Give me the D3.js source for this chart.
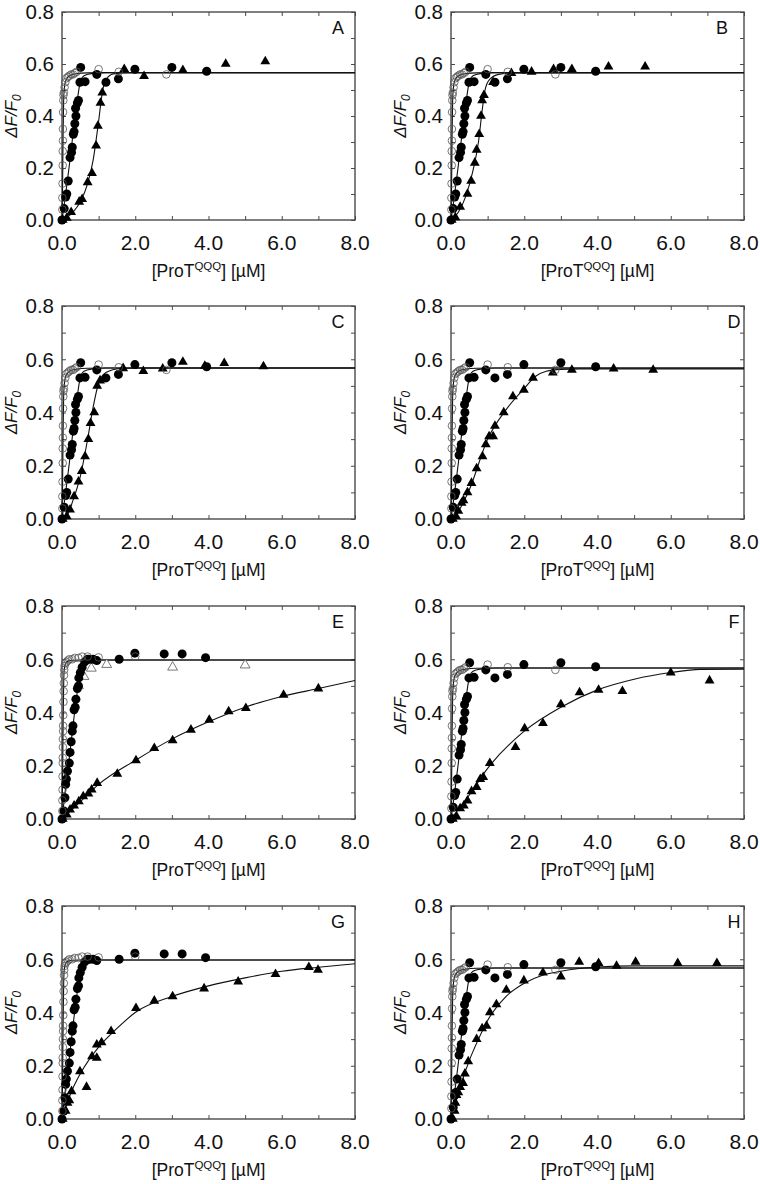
<!DOCTYPE html>
<html><head><meta charset="utf-8">
<script src="https://cdn.jsdelivr.net/npm/d3@7"></script>
<style>body{margin:0;background:#fff}svg{display:block}</style>
</head><body>
<script>
// ---------- DATA ----------
const panelLabels = ["A","B","C","D","E","F","G","H"];
const xTicks = [0,2,4,6,8];
const xMinor = [0,1,2,3,4,5,6,7,8];
const yTicks = [0,0.2,0.4,0.6,0.8];
const yMinor = [0,0.1,0.2,0.3,0.4,0.5,0.6,0.7,0.8];
const xTitleMain = "[ProT";
const xTitleSup = "QQQ";
const xTitleEnd = "] [µM]";

// control set 1 (panels A,B,C,D,F,H)
const openCircles1 = [[0.01,0.04],[0.01,0.085],[0.015,0.14],[0.02,0.21],[0.02,0.265],[0.025,0.305],[0.025,0.35],[0.03,0.415],[0.035,0.46],[0.04,0.48],[0.05,0.49],[0.07,0.51],[0.09,0.53],[0.12,0.545],[0.16,0.55],[0.2,0.555],[0.25,0.56],[0.3,0.56],[0.35,0.565],[0.4,0.57],[1.0,0.58],[1.55,0.57],[2.85,0.56]];
const filledCircles1 = [[0,0],[0.06,0.044],[0.1,0.088],[0.13,0.1],[0.17,0.15],[0.22,0.24],[0.26,0.26],[0.28,0.28],[0.31,0.33],[0.33,0.34],[0.35,0.37],[0.38,0.4],[0.37,0.43],[0.42,0.45],[0.45,0.46],[0.51,0.587],[0.49,0.53],[0.63,0.532],[0.95,0.56],[1.2,0.53],[1.54,0.543],[1.99,0.58],[3.0,0.587],[3.95,0.572]];
const openCurve1 = [[0,0],[0.015,0.12],[0.03,0.33],[0.045,0.46],[0.06,0.5],[0.09,0.53],[0.15,0.548],[0.25,0.558],[0.4,0.563],[0.7,0.566],[1.2,0.567],[8,0.567]];
const filledCurve1 = [[0,0],[0.1,0.1],[0.2,0.21],[0.3,0.33],[0.4,0.44],[0.47,0.51],[0.52,0.54],[0.6,0.555],[0.8,0.563],[1.2,0.567],[8,0.567]];

// control set 2 (panels E,G)
const openCircles2 = [[0.01,0.03],[0.01,0.07],[0.015,0.11],[0.015,0.16],[0.02,0.21],[0.02,0.23],[0.025,0.27],[0.025,0.3],[0.03,0.33],[0.03,0.35],[0.035,0.39],[0.04,0.44],[0.045,0.48],[0.05,0.51],[0.055,0.54],[0.06,0.56],[0.07,0.575],[0.09,0.585],[0.12,0.59],[0.16,0.595],[0.2,0.6],[0.28,0.6],[0.35,0.605],[0.45,0.605],[0.55,0.61],[0.7,0.61],[1.0,0.607],[2.0,0.61]];
const filledCircles2 = [[0,0],[0.05,0.03],[0.08,0.08],[0.1,0.13],[0.12,0.15],[0.15,0.18],[0.2,0.21],[0.22,0.25],[0.25,0.29],[0.28,0.33],[0.3,0.35],[0.33,0.41],[0.36,0.42],[0.38,0.45],[0.42,0.49],[0.45,0.5],[0.46,0.53],[0.5,0.55],[0.55,0.57],[0.62,0.59],[0.7,0.6],[0.75,0.6],[0.85,0.6],[0.95,0.595],[1.56,0.6],[1.99,0.623],[2.79,0.62],[3.28,0.62],[3.92,0.606]];
const openCurve2 = [[0,0],[0.015,0.14],[0.03,0.35],[0.045,0.5],[0.06,0.56],[0.09,0.582],[0.15,0.592],[0.3,0.596],[0.6,0.597],[8,0.597]];
const filledCurve2 = [[0,0],[0.1,0.12],[0.2,0.23],[0.3,0.35],[0.4,0.46],[0.5,0.55],[0.58,0.585],[0.7,0.596],[1.0,0.597],[8,0.597]];

// titration series (filled triangles), one per panel
const trianglesA = [[0.02,0.0],[0.13,0.008],[0.25,0.03],[0.47,0.07],[0.55,0.08],[0.7,0.145],[0.82,0.18],[0.93,0.286],[0.98,0.362],[1.05,0.45],[1.1,0.49],[1.7,0.58],[2.24,0.553],[3.3,0.576],[4.47,0.6],[5.55,0.61]];
const trianglesB = [[0.02,0.0],[0.12,0.01],[0.25,0.05],[0.45,0.1],[0.55,0.15],[0.65,0.22],[0.7,0.27],[0.77,0.33],[0.82,0.4],[0.85,0.46],[0.9,0.48],[1.15,0.53],[1.65,0.565],[2.2,0.57],[2.8,0.58],[3.3,0.58],[4.3,0.59],[5.3,0.59]];
const trianglesC = [[0.02,0.0],[0.13,0.01],[0.22,0.035],[0.33,0.085],[0.45,0.14],[0.54,0.18],[0.63,0.235],[0.72,0.3],[0.78,0.36],[0.88,0.4],[0.96,0.5],[1.04,0.52],[1.67,0.566],[2.22,0.555],[2.75,0.565],[3.3,0.59],[3.9,0.575],[4.43,0.585],[5.5,0.573]];
const trianglesD = [[0.05,0.0],[0.14,0.01],[0.2,0.03],[0.29,0.06],[0.34,0.07],[0.45,0.1],[0.56,0.135],[0.7,0.19],[0.86,0.235],[0.95,0.28],[1.04,0.31],[1.15,0.31],[1.2,0.35],[1.44,0.4],[1.69,0.46],[1.99,0.485],[2.24,0.53],[2.78,0.55],[3.3,0.56],[4.44,0.565],[5.52,0.56]];
const trianglesE = [[0.02,0.0],[0.13,0.016],[0.22,0.035],[0.33,0.05],[0.46,0.066],[0.58,0.085],[0.72,0.095],[0.81,0.11],[0.96,0.135],[1.51,0.169],[2.02,0.22],[2.52,0.266],[3.02,0.295],[3.52,0.335],[4.02,0.372],[4.55,0.404],[5.02,0.416],[6.05,0.466],[7.0,0.49]];
const openTrianglesE = [[0.45,0.5],[0.6,0.535],[0.8,0.566],[1.22,0.58],[3.02,0.57],[5.0,0.578]];
const trianglesF = [[0.05,0.0],[0.15,0.01],[0.25,0.04],[0.35,0.05],[0.45,0.069],[0.56,0.104],[0.7,0.12],[0.8,0.15],[0.88,0.157],[1.06,0.21],[1.76,0.27],[2.01,0.34],[2.51,0.36],[3.0,0.43],[3.51,0.475],[4.03,0.485],[4.68,0.48],[6.0,0.55],[7.06,0.52]];
const trianglesG = [[0.02,0.0],[0.1,0.03],[0.15,0.06],[0.2,0.07],[0.26,0.104],[0.49,0.179],[0.67,0.12],[0.82,0.235],[0.95,0.229],[0.95,0.279],[1.08,0.2875],[1.34,0.33],[2.02,0.416],[2.52,0.444],[3.02,0.46],[3.88,0.49],[4.81,0.516],[5.83,0.544],[6.74,0.57],[6.99,0.56]];
const trianglesH = [[0.05,0.0],[0.1,0.03],[0.12,0.06],[0.15,0.09],[0.2,0.1],[0.25,0.12],[0.33,0.135],[0.38,0.17],[0.47,0.216],[0.7,0.3],[0.85,0.34],[0.97,0.35],[1.06,0.4],[1.24,0.43],[1.51,0.485],[1.99,0.52],[2.51,0.55],[3.0,0.535],[3.5,0.59],[4.03,0.585],[4.52,0.575],[5.04,0.59],[6.19,0.585],[7.26,0.585]];

// fitted lines for the triangle series
const triCurveA = [[0,0],[0.3,0.03],[0.5,0.07],[0.7,0.14],[0.85,0.23],[1.0,0.38],[1.1,0.49],[1.2,0.54],[1.4,0.562],[1.8,0.567],[8,0.567]];
const triCurveB = [[0,0],[0.2,0.03],[0.4,0.09],[0.6,0.19],[0.75,0.3],[0.85,0.42],[0.93,0.5],[1.05,0.54],[1.3,0.56],[1.8,0.566],[8,0.567]];
const triCurveC = [[0,0],[0.1,0.005],[0.3,0.07],[0.5,0.16],[0.7,0.3],[0.85,0.42],[1.0,0.51],[1.2,0.55],[1.6,0.565],[2.0,0.567],[8,0.567]];
const triCurveD = [[0,0],[0.1,0.01],[0.5,0.11],[1.0,0.3],[1.5,0.41],[2.0,0.49],[2.3,0.535],[2.6,0.555],[3.0,0.562],[3.5,0.564],[8,0.564]];
const triCurveE = [[0,0],[0.5,0.065],[1.0,0.13],[2.0,0.22],[3.0,0.3],[4.0,0.365],[5.0,0.42],[6.0,0.46],[7.0,0.49],[8,0.52]];
const triCurveF = [[0,0],[0.5,0.09],[1.0,0.19],[2.0,0.33],[3.0,0.42],[4.0,0.485],[5.0,0.525],[6.0,0.55],[6.8,0.562],[8,0.563]];
const triCurveG = [[0,0],[0.25,0.1],[0.5,0.17],[1.0,0.27],[1.5,0.34],[2.0,0.4],[3.0,0.46],[4.0,0.5],[5.0,0.53],[6.0,0.555],[7.0,0.57],[8,0.583]];
const triCurveH = [[0,0],[0.25,0.12],[0.5,0.22],[0.75,0.3],[1.0,0.37],[1.5,0.46],[2.0,0.51],[2.5,0.54],[3.0,0.555],[3.5,0.565],[4.0,0.571],[5.0,0.575],[8,0.575]];

const triangles = [trianglesA,trianglesB,trianglesC,trianglesD,trianglesE,trianglesF,trianglesG,trianglesH];
const triCurves = [triCurveA,triCurveB,triCurveC,triCurveD,triCurveE,triCurveF,triCurveG,triCurveH];
const controlSet = [1,1,1,1,2,1,2,1];

// ---------- DRAW ----------
const W = 760, H = 1184;
const svg = d3.select("body").append("svg").attr("width",W).attr("height",H);
svg.append("rect").attr("width",W).attr("height",H).attr("fill","#fff");

const colLeft = [62, 451];
const rowTop = [12, 306, 606, 906];
const rowH = [208, 213, 213, 213];
const pw = 293;
const frameColor = "#4a4a4a";
const font = "Liberation Sans, Arial, sans-serif";
const labelX = [338, 734];
const labelXAlt = {1: 722};

panelLabels.forEach((lab, i) => {
  const col = i % 2, row = Math.floor(i / 2);
  const L = colLeft[col], T = rowTop[row], ph = rowH[row];
  const g = svg.append("g").attr("transform", `translate(${L},${T})`);
  const x = d3.scaleLinear().domain([0, 8]).range([0, pw]);
  const y = d3.scaleLinear().domain([0, 0.8]).range([ph, 0]);

  // inner ticks
  const tl = 4;
  const axB = d3.axisBottom(x).tickValues(xMinor).tickSize(-tl).tickFormat("");
  const axT = d3.axisTop(x).tickValues(xMinor).tickSize(-tl).tickFormat("");
  const axL = d3.axisLeft(y).tickValues(yMinor).tickSize(-tl).tickFormat("");
  const axR = d3.axisRight(y).tickValues(yMinor).tickSize(-tl).tickFormat("");
  [[axB,`translate(0,${ph})`],[axT,"translate(0,0)"],[axL,"translate(0,0)"],[axR,`translate(${pw},0)`]].forEach(([ax,tr]) => {
    const a = g.append("g").attr("transform", tr).call(ax);
    a.select(".domain").remove();
    a.selectAll("line").attr("stroke", frameColor).attr("stroke-width", 1);
  });
  g.append("rect").attr("width", pw).attr("height", ph).attr("fill","none")
    .attr("stroke", frameColor).attr("stroke-width", 1.4);

  // tick labels
  g.selectAll(".xl").data(xTicks).enter().append("text")
    .attr("x", d => x(d)).attr("y", ph + 30).attr("text-anchor","middle")
    .attr("font-family", font).attr("font-size", 21).attr("fill","#111")
    .text(d => d.toFixed(1));
  g.selectAll(".yl").data(yTicks).enter().append("text")
    .attr("x", -8).attr("y", d => y(d)).attr("dy","0.36em").attr("text-anchor","end")
    .attr("font-family", font).attr("font-size", 20.5).attr("fill","#111")
    .text(d => d.toFixed(1));

  // axis titles
  const xt = g.append("text").attr("x", pw/2).attr("y", ph + 57).attr("text-anchor","middle")
    .attr("font-family", font).attr("font-size", 17.5).attr("fill","#111");
  xt.append("tspan").text(xTitleMain);
  xt.append("tspan").attr("dy", -7).attr("font-size", 11.5).text(xTitleSup);
  xt.append("tspan").attr("dy", 7).text(xTitleEnd);

  const yt = g.append("text").attr("transform", `translate(-45,${ph/2}) rotate(-90)`)
    .attr("text-anchor","middle").attr("font-family", font).attr("font-size", 17)
    .attr("font-style","italic").attr("fill","#111");
  yt.append("tspan").text("ΔF/F");
  yt.append("tspan").attr("dy", 4).attr("font-size", 12).text("0");

  // panel letter
  g.append("text").attr("x", (labelXAlt[i] !== undefined ? labelXAlt[i] : labelX[col]) - L)
    .attr("y", 22).attr("text-anchor","middle")
    .attr("font-family", font).attr("font-size", 18).attr("fill","#111").text(lab);

  // curves
  const line = d3.line().x(d => x(d[0])).y(d => y(d[1])).curve(d3.curveMonotoneX);
  const oc = controlSet[i] === 1 ? openCurve1 : openCurve2;
  const fc = controlSet[i] === 1 ? filledCurve1 : filledCurve2;
  [oc, fc, triCurves[i]].forEach(c => {
    g.append("path").datum(c).attr("d", line).attr("fill","none")
      .attr("stroke","#111").attr("stroke-width", 1.1);
  });

  // points
  const oPts = controlSet[i] === 1 ? openCircles1 : openCircles2;
  const fPts = controlSet[i] === 1 ? filledCircles1 : filledCircles2;
  const tri = d3.symbol().type(d3.symbolTriangle).size(42);
  g.selectAll(".tri").data(triangles[i]).enter().append("path")
    .attr("d", tri).attr("transform", d => `translate(${x(d[0])},${y(d[1])})`).attr("fill","#000");
  if (i === 4) {
    g.selectAll(".otri").data(openTrianglesE).enter().append("path")
      .attr("d", tri).attr("transform", d => `translate(${x(d[0])},${y(d[1])})`)
      .attr("fill","#fff").attr("stroke","#555").attr("stroke-width", 0.8);
  }
  g.selectAll(".fc").data(fPts).enter().append("circle")
    .attr("cx", d => x(d[0])).attr("cy", d => y(d[1])).attr("r", 4.5).attr("fill","#000");
  g.selectAll(".oc").data(oPts).enter().append("circle")
    .attr("cx", d => x(d[0])).attr("cy", d => y(d[1])).attr("r", 3.8)
    .attr("fill","none").attr("stroke","#555").attr("stroke-width", 0.8);
});
</script>
</body></html>
